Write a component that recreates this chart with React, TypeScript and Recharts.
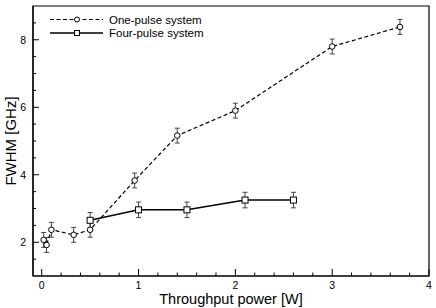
import React from 'react';
import { LineChart, Line, XAxis, YAxis, ErrorBar, ReferenceArea, Legend } from 'recharts';

const onePulseX = [0.02, 0.05, 0.1, 0.33, 0.5, 0.96, 1.4, 2.0, 3.0, 3.7];
const onePulseY = [2.07, 1.92, 2.37, 2.22, 2.37, 3.83, 5.16, 5.9, 7.8, 8.38];
const onePulseErr = [0.22, 0.22, 0.22, 0.22, 0.22, 0.22, 0.22, 0.22, 0.22, 0.22];
const fourPulseX = [0.5, 1.0, 1.5, 2.1, 2.6];
const fourPulseY = [2.65, 2.96, 2.96, 3.25, 3.25];
const fourPulseErr = [0.23, 0.23, 0.23, 0.23, 0.23];

const xTicks = [0, 0.2, 0.4, 0.6, 0.8, 1, 1.2, 1.4, 1.6, 1.8, 2, 2.2, 2.4, 2.6, 2.8, 3, 3.2, 3.4, 3.6, 3.8, 4];
const xMajor = [0, 1, 2, 3, 4];
const yTicks = [1.5, 2, 2.5, 3, 3.5, 4, 4.5, 5, 5.5, 6, 6.5, 7, 7.5, 8, 8.5];
const yMajor = [2, 4, 6, 8];

const seriesNames = ['One-pulse system', 'Four-pulse system'];
const xLabel = 'Throughput power [W]';
const yLabel = 'FWHM [GHz]';

const onePulse = onePulseX.map((x, i) => ({ x, y: onePulseY[i], err: onePulseErr[i] }));
const fourPulse = fourPulseX.map((x, i) => ({ x, y: fourPulseY[i], err: fourPulseErr[i] }));

const FONT = '"Liberation Sans", Arial, sans-serif';

const XTick = (props: any) => {
  const { x, y, payload } = props;
  const major = xMajor.includes(payload.value);
  return (
    <g>
      <line x1={x} x2={x} y1={y} y2={y - (major ? 7 : 3.5)} stroke="#000" strokeWidth={1} />
      {major && (
        <text x={x} y={y + 13} textAnchor="middle" fontSize={10.5} fontFamily={FONT} fill="#000">
          {payload.value}
        </text>
      )}
    </g>
  );
};

const YTick = (props: any) => {
  const { x, y, payload } = props;
  const major = yMajor.includes(payload.value);
  return (
    <g>
      <line x1={x} x2={x + (major ? 6 : 3)} y1={y} y2={y} stroke="#000" strokeWidth={1} />
      {major && (
        <text x={x - 7} y={y} textAnchor="end" dominantBaseline="central" fontSize={10.5} fontFamily={FONT} fill="#000">
          {payload.value}
        </text>
      )}
    </g>
  );
};

const CircleDot = (props: any) => {
  const { cx, cy, index } = props;
  return <circle key={'c' + index} cx={cx} cy={cy} r={2.8} fill="#fff" stroke="#000" strokeWidth={1} />;
};

const SquareDot = (props: any) => {
  const { cx, cy, index } = props;
  return <rect key={'s' + index} x={cx - 3} y={cy - 3} width={6} height={6} fill="#fff" stroke="#000" strokeWidth={1} />;
};

const LegendContent = () => (
  <svg width={200} height={30} style={{ display: 'block' }}>
    <line x1={5} x2={58} y1={7.5} y2={7.5} stroke="#000" strokeWidth={1.2} strokeDasharray="4 2.5" />
    <circle cx={32} cy={7.5} r={2.5} fill="#fff" stroke="#000" />
    <text x={64} y={7.5} dominantBaseline="central" fontSize={11.5} fontFamily={FONT} fill="#000">{seriesNames[0]}</text>
    <line x1={5} x2={58} y1={21} y2={21} stroke="#000" strokeWidth={1.5} />
    <rect x={29.5} y={18.5} width={5} height={5} fill="#fff" stroke="#000" />
    <text x={64} y={21} dominantBaseline="central" fontSize={11.5} fontFamily={FONT} fill="#000">{seriesNames[1]}</text>
  </svg>
);

export default function App() {
  return (
    <div style={{ position: 'absolute', left: 0, top: 0, background: '#fff' }}>
      <LineChart width={436} height={308} margin={{ top: 6, right: 7, left: 0, bottom: 0 }}>
        <XAxis
          type="number"
          dataKey="x"
          domain={[-0.09, 4]}
          ticks={xTicks}
          interval={0}
          allowDataOverflow
          height={32}
          tickSize={0}
          tickMargin={0}
          tickLine={false}
          axisLine={{ stroke: '#000', strokeWidth: 1.2 }}
          tick={<XTick />}
          label={{
            content: (p: any) => {
              const vb = p.viewBox || {};
              return (
                <text x={vb.x + vb.width / 2} y={303.5} textAnchor="middle" fontSize={14.5} fontFamily={FONT} fill="#000">
                  {xLabel}
                </text>
              );
            },
          }}
        />
        <YAxis
          type="number"
          dataKey="y"
          domain={[1, 9]}
          ticks={yTicks}
          interval={0}
          allowDataOverflow
          width={33}
          tickSize={0}
          tickMargin={0}
          tickLine={false}
          axisLine={{ stroke: '#000', strokeWidth: 1.2 }}
          tick={<YTick />}
          label={{
            content: (p: any) => {
              const vb = p.viewBox || {};
              const cy = vb.y + vb.height / 2;
              return (
                <text x={10.5} y={cy} transform={`rotate(-90 10.5 ${cy})`} textAnchor="middle" dominantBaseline="central" fontSize={15} fontFamily={FONT} fill="#000">
                  {yLabel}
                </text>
              );
            },
          }}
        />
        <ReferenceArea x1={-0.09} x2={4} y1={1} y2={9} fill="none" stroke="#000" strokeWidth={1.2} ifOverflow="visible" />
        <Legend
          layout="vertical"
          align="center"
          verticalAlign="middle"
          wrapperStyle={{ left: 45, top: 12, width: 200 }}
          content={<LegendContent />}
        />
        <Line
          data={onePulse}
          dataKey="y"
          type="linear"
          stroke="#000"
          strokeWidth={1.2}
          strokeDasharray="4 2.5"
          dot={<CircleDot />}
          isAnimationActive={false}
          legendType="none"
        >
          <ErrorBar dataKey="err" direction="y" width={2.5} stroke="#444" strokeWidth={1} isAnimationActive={false} />
        </Line>
        <Line
          data={fourPulse}
          dataKey="y"
          type="linear"
          stroke="#000"
          strokeWidth={1.5}
          dot={<SquareDot />}
          isAnimationActive={false}
          legendType="none"
        >
          <ErrorBar dataKey="err" direction="y" width={2.5} stroke="#444" strokeWidth={1} isAnimationActive={false} />
        </Line>
      </LineChart>
    </div>
  );
}
